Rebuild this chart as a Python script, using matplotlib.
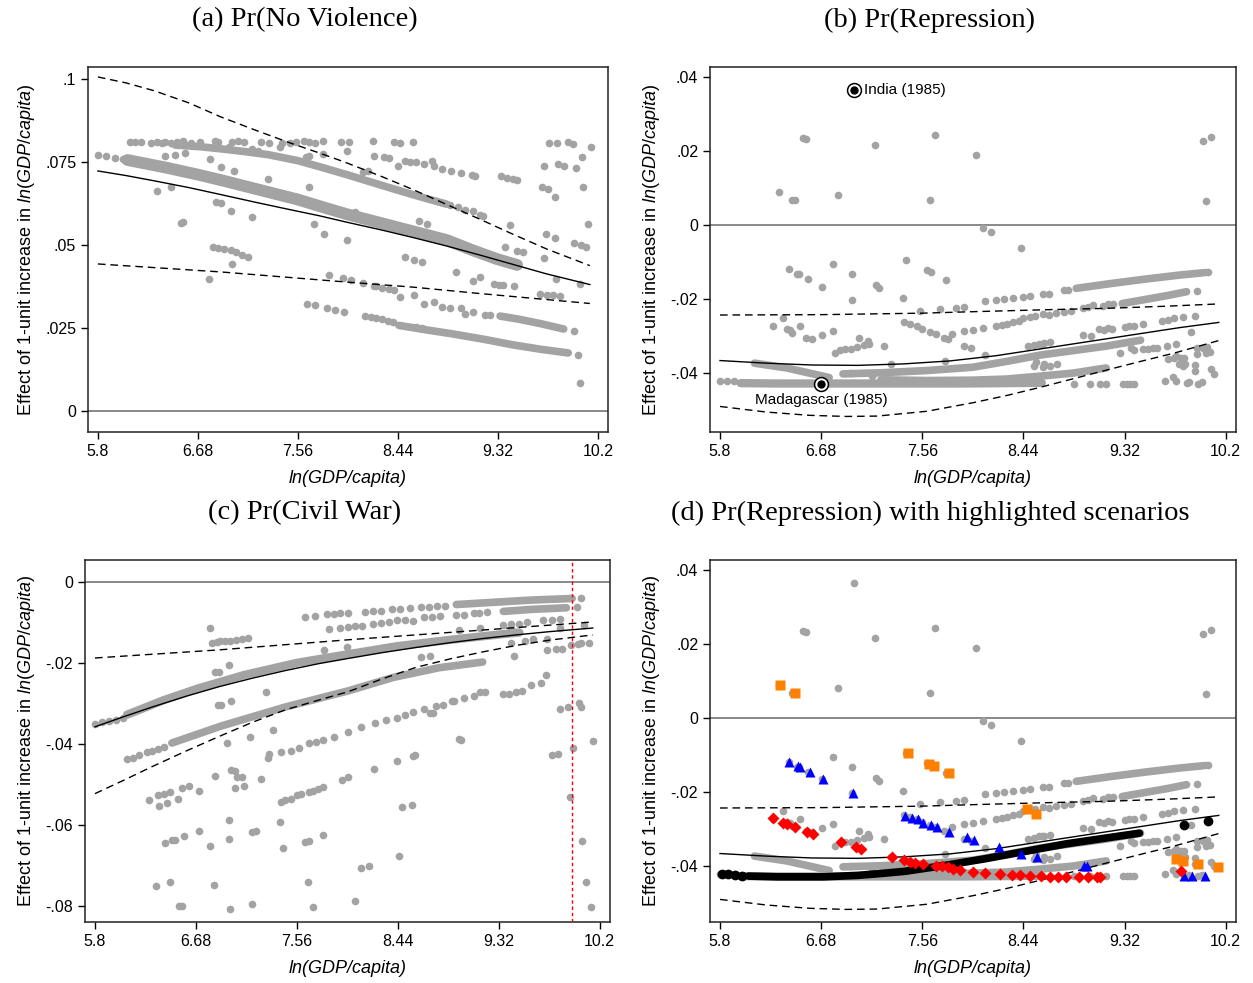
import numpy as np
import matplotlib
matplotlib.use("Agg")
import matplotlib.pyplot as plt

plt.rcParams['font.family'] = ['Liberation Sans', 'DejaVu Sans']
plt.rcParams['mathtext.fontset'] = 'custom'
plt.rcParams['mathtext.rm'] = 'Liberation Sans'
plt.rcParams['mathtext.it'] = 'Liberation Sans:italic'

GREY = '#a3a3a3'

# x axis ticks shared by every panel
xticks = [5.8, 6.68, 7.56, 8.44, 9.32, 10.2]
xticklabels = ['5.8', '6.68', '7.56', '8.44', '9.32', '10.2']

# ---------------- (a) Pr(No Violence) ----------------
a_fit_x = [5.8, 6.05, 6.30, 6.6, 6.88, 7.17, 7.47, 7.75, 8.0, 8.3, 8.58, 8.87, 9.16, 9.45, 9.75, 10.13]
a_fit_y = [0.0723, 0.0709, 0.0693, 0.0673, 0.0652, 0.0630, 0.0608, 0.0588, 0.0568, 0.0545, 0.0522, 0.0497, 0.0470, 0.0442, 0.0413, 0.0381]
a_hi_x = [5.8, 6.05, 6.30, 6.6, 6.88, 7.17, 7.47, 7.75, 7.97, 8.3, 8.58, 8.87, 9.16, 9.45, 9.75, 10.13]
a_hi_y = [0.1006, 0.0988, 0.0964, 0.0928, 0.0886, 0.0848, 0.0810, 0.0777, 0.0750, 0.0706, 0.0666, 0.0622, 0.0578, 0.0533, 0.0488, 0.0438]
a_lo_x = [5.8, 6.88, 7.97, 8.58, 9.16, 10.13]
a_lo_y = [0.0443, 0.0419, 0.0389, 0.0373, 0.0354, 0.0324]

# dense runs of dots
a_bands = [
    ([6.48, 6.7, 6.9, 7.1, 7.3, 7.56, 7.8, 8.0, 8.2, 8.43, 8.65, 8.87],
     [0.0801, 0.0796, 0.0789, 0.0781, 0.0772, 0.0754, 0.0731, 0.0711, 0.0690, 0.0666, 0.0644, 0.0623], 5.5),
    ([6.06, 6.4, 6.68, 6.9, 7.2, 7.56, 7.8, 8.0, 8.44, 8.87, 9.1, 9.31, 9.49],
     [0.0756, 0.0733, 0.0712, 0.0694, 0.0668, 0.0637, 0.0612, 0.0592, 0.0553, 0.0515, 0.0484, 0.0458, 0.0440], 8.5),
    ([8.45, 8.7, 8.93, 9.2, 9.46, 9.7, 9.94],
     [0.0258, 0.0244, 0.0232, 0.0216, 0.0199, 0.0186, 0.0175], 5.5),
    ([9.34, 9.5, 9.7, 9.9],
     [0.0286, 0.0277, 0.0263, 0.0247], 5.5),
]

a_dots_x = [5.80, 5.87, 5.95, 6.02,
            6.08, 6.13, 6.18, 6.27, 6.32, 6.36, 6.39, 6.44, 6.50, 6.55, 6.62, 6.70, 6.83, 6.86,
            6.98, 7.03, 7.09, 7.24, 7.31, 7.42, 7.49, 7.54, 7.61, 7.66, 7.71, 7.78, 7.94, 8.01,
            8.22, 8.41, 8.46, 8.57,
            6.39, 6.48, 6.57, 6.95, 7.16, 7.21, 7.40, 7.63, 7.66, 7.78, 7.99, 8.23, 8.32, 8.36,
            8.44, 8.50, 8.55, 8.60, 8.67, 8.74, 8.76, 8.83, 8.91, 9.00, 9.09, 9.12, 9.35, 9.40,
            9.45, 9.49, 8.90, 8.97, 9.03, 9.10, 9.16, 9.19,
            9.77, 9.84, 9.94, 9.98, 10.14, 9.73, 9.85, 9.90, 10.01, 10.06, 10.07, 9.71, 9.76,
            9.82, 10.11, 9.99, 10.05, 10.10, 9.74, 9.82, 9.73, 9.83, 10.04, 9.43, 9.38, 9.49,
            9.54, 8.63, 8.70, 8.50, 8.58, 8.65, 8.95, 9.10, 9.16,
            6.32, 6.44, 6.53, 6.55, 6.78, 6.84, 6.88, 6.97, 7.00, 6.88, 7.16, 7.30, 7.66, 7.70,
            7.79, 7.99, 8.06, 8.13, 8.18, 6.79,
            6.81, 6.86, 6.91, 6.97, 7.02, 7.07, 7.12, 6.98,
            7.64, 7.71, 7.82, 7.89, 7.97, 8.15, 8.20, 8.25, 8.30, 8.35, 8.40, 8.60, 8.65,
            10.03, 10.04,
            7.83, 7.96, 8.03, 8.13, 8.25, 8.36, 8.46, 8.58, 8.67, 8.76, 8.83, 8.90, 9.00, 9.03,
            9.10, 9.21, 9.25, 8.23, 8.30, 8.41, 9.29, 9.33, 9.37, 9.46, 9.69, 9.75, 9.81, 9.87,
            9.99]
a_dots_y = [0.0771, 0.0768, 0.0763, 0.0760,
            0.0810, 0.0810, 0.0810, 0.0808, 0.0810, 0.0806, 0.0810, 0.0808, 0.0810, 0.0812, 0.0808, 0.0810, 0.0812, 0.0810,
            0.0810, 0.0812, 0.0810, 0.0810, 0.0806, 0.0806, 0.0808, 0.0810, 0.0812, 0.0810, 0.0806, 0.0812, 0.0810, 0.0810,
            0.0812, 0.0810, 0.0808, 0.0810,
            0.0769, 0.0772, 0.0776, 0.0794, 0.0789, 0.0784, 0.0794, 0.0766, 0.0769, 0.0774, 0.0784, 0.0769, 0.0764, 0.0762,
            0.0739, 0.0754, 0.0749, 0.0749, 0.0744, 0.0754, 0.0739, 0.0729, 0.0724, 0.0716, 0.0712, 0.0708, 0.0707, 0.0702,
            0.0699, 0.0696, 0.0619, 0.0614, 0.0606, 0.0601, 0.0591, 0.0586,
            0.0806, 0.0806, 0.0810, 0.0804, 0.0794, 0.0739, 0.0744, 0.0739, 0.0732, 0.0766, 0.0676, 0.0676, 0.0668,
            0.0644, 0.0564, 0.0506, 0.0499, 0.0494, 0.0532, 0.0522, 0.0461, 0.0398, 0.0383, 0.0561, 0.0494, 0.0483,
            0.0478, 0.0572, 0.0564, 0.0463, 0.0455, 0.0448, 0.0418, 0.0393, 0.0403,
            0.0662, 0.0674, 0.0566, 0.0568, 0.0397, 0.0629, 0.0626, 0.0602, 0.0724, 0.0734, 0.0584, 0.0699, 0.0674, 0.0564,
            0.0534, 0.0514, 0.0599, 0.0719, 0.0724, 0.0759,
            0.0495, 0.0492, 0.0488, 0.0484, 0.0478, 0.0470, 0.0463, 0.0443,
            0.0323, 0.0318, 0.0310, 0.0303, 0.0298, 0.0286, 0.0283, 0.0279, 0.0276, 0.0272, 0.0268, 0.0252, 0.0249,
            0.0168, 0.0084,
            0.0411, 0.0400, 0.0395, 0.0386, 0.0378, 0.0368, 0.0343, 0.0348, 0.0323, 0.0328, 0.0313, 0.0310, 0.0310, 0.0293,
            0.0298, 0.0288, 0.0290, 0.0376, 0.0372, 0.0364, 0.0383, 0.0381, 0.0379, 0.0376, 0.0354, 0.0351, 0.0348, 0.0346,
            0.0240]

# ---------------- (b) Pr(Repression) ----------------
b_fit_x = [5.8, 6.2, 6.6, 7.0, 7.4, 7.8, 8.2, 8.6, 9.0, 9.4, 9.8, 10.14]
b_fit_y = [-0.0366, -0.0373, -0.0378, -0.0379, -0.0375, -0.0367, -0.0353, -0.0334, -0.0315, -0.0296, -0.0277, -0.0263]
b_hi_x = [5.8, 6.68, 7.56, 8.0, 8.6, 9.16, 9.7, 10.14]
b_hi_y = [-0.0243, -0.0242, -0.0238, -0.0234, -0.0229, -0.0225, -0.0219, -0.0213]
b_lo_x = [5.8, 6.2, 6.58, 6.9, 7.17, 7.6, 8.0, 8.3, 8.59, 8.9, 9.16, 9.45, 9.75, 10.14]
b_lo_y = [-0.0490, -0.0505, -0.0514, -0.0517, -0.0516, -0.0503, -0.0480, -0.0460, -0.0438, -0.0413, -0.0392, -0.0369, -0.0346, -0.0312]

b_bands = [
    ([5.98, 6.3, 6.7, 7.1, 7.5, 7.9, 8.3, 8.6],
     [-0.0427, -0.0428, -0.0428, -0.0428, -0.0428, -0.0428, -0.0427, -0.0426], 6),
    ([6.1, 6.38, 6.58, 6.75],
     [-0.0373, -0.0386, -0.0400, -0.0412], 5.5),
    ([6.87, 7.2, 7.6, 8.0, 8.3, 8.59, 8.9, 9.16, 9.46],
     [-0.0402, -0.0399, -0.0393, -0.0384, -0.0368, -0.0351, -0.0338, -0.0327, -0.0311], 5.5),
    ([7.2, 7.6, 8.0, 8.29, 8.59, 8.87, 9.16],
     [-0.0418, -0.0420, -0.0419, -0.0416, -0.0408, -0.0400, -0.0386], 5.5),
    ([8.9, 9.2, 9.5, 9.8, 10.0],
     [-0.0171, -0.0158, -0.0146, -0.0135, -0.0129], 5.5),
    ([9.3, 9.5, 9.7, 9.86],
     [-0.0212, -0.0201, -0.0190, -0.0180], 5.5),
]

b_dots_x = [6.97, 6.52, 6.55, 7.15, 7.67, 8.03, 10.00, 10.07, 10.03, 6.31, 6.43, 6.45, 6.83, 7.63,
            8.09, 8.16, 8.42,
            6.40, 6.47, 6.49, 6.57, 6.69, 6.78, 6.95, 6.95, 7.16, 7.18, 7.39, 7.42, 7.60, 7.64, 7.77,
            6.26, 6.35, 6.38, 6.41, 6.43, 6.50, 6.55, 6.60, 6.69, 6.78, 7.01, 7.09,
            6.80, 6.84, 6.89, 6.94, 6.99, 7.05, 7.10, 7.23, 6.94, 7.12, 7.29,
            7.40, 7.45, 7.51, 7.56, 7.63, 7.68, 7.75, 7.78, 7.82, 7.92, 7.98, 7.76, 8.11,
            8.48, 8.58, 8.62, 8.53, 8.61, 8.67, 9.03, 9.18, 9.21, 9.28, 9.38, 9.48, 9.57, 9.69,
            9.70, 9.77, 9.81, 9.90, 9.83, 9.93, 9.95, 10.03, 10.06, 9.77, 9.86, 9.96, 10.10, 9.67,
            9.31, 9.34, 9.37, 9.40, 9.16, 9.11, 9.02, 8.88,
            5.80, 5.86, 5.92,
            7.54, 7.71, 7.85, 7.92, 8.11, 8.20, 8.27, 8.35, 8.44, 8.50, 8.61, 8.66, 8.79, 8.83,
            10.02, 10.05,
            8.79, 8.85, 8.96, 9.00, 9.05, 9.13, 9.18, 9.22, 9.95,
            7.92, 8.00, 8.09, 8.20, 8.25, 8.30, 8.35, 8.40, 8.44, 8.50, 8.54, 8.61, 8.66, 8.72,
            9.32, 9.36, 9.40, 9.48, 9.65, 9.70, 9.75, 9.83, 9.93,
            8.96, 9.10, 9.14, 8.53, 8.60, 8.67, 8.55, 8.62, 8.73, 9.40, 9.52, 9.60, 9.77,
            9.75, 9.84, 9.79, 9.85, 9.95, 10.00, 10.04, 9.93, 10.07, 9.74, 9.88, 9.99]
b_dots_y = [0.0366, 0.0235, 0.0233, 0.0215, 0.0242, 0.0190, 0.0228, 0.0237, 0.0064, 0.0088, 0.0069, 0.0068, 0.0082, 0.0068,
            -0.0008, -0.0020, -0.0062,
            -0.0119, -0.0131, -0.0133, -0.0146, -0.0166, -0.0106, -0.0131, -0.0203, -0.0162, -0.0169, -0.0198, -0.0095, -0.0122, -0.0128, -0.0149,
            -0.0272, -0.0250, -0.0281, -0.0284, -0.0291, -0.0272, -0.0304, -0.0308, -0.0296, -0.0286, -0.0304, -0.0313,
            -0.0345, -0.0338, -0.0336, -0.0334, -0.0330, -0.0325, -0.0322, -0.0326, -0.0399, -0.0408, -0.0376,
            -0.0263, -0.0268, -0.0272, -0.0282, -0.0290, -0.0294, -0.0304, -0.0308, -0.0295, -0.0326, -0.0331, -0.0367, -0.0351,
            -0.0326, -0.0320, -0.0318, -0.0380, -0.0383, -0.0380, -0.0300, -0.0277, -0.0282, -0.0345, -0.0331, -0.0335, -0.0331, -0.0326,
            -0.0363, -0.0354, -0.0358, -0.0290, -0.0380, -0.0394, -0.0349, -0.0345, -0.0344, -0.0421, -0.0426, -0.0428, -0.0401, -0.0421,
            -0.0428, -0.0428, -0.0428, -0.0428, -0.0428, -0.0428, -0.0428, -0.0428,
            -0.0420, -0.0421, -0.0422,
            -0.0232, -0.0227, -0.0223, -0.0222, -0.0205, -0.0203, -0.0200, -0.0197, -0.0194, -0.0192, -0.0187, -0.0185, -0.0176, -0.0175,
            -0.0127, -0.0127,
            -0.0236, -0.0233, -0.0223, -0.0222, -0.0217, -0.0218, -0.0213, -0.0214, -0.0178,
            -0.0286, -0.0283, -0.0279, -0.0272, -0.0270, -0.0266, -0.0262, -0.0258, -0.0250, -0.0247, -0.0245, -0.0241, -0.0243, -0.0238,
            -0.0275, -0.0274, -0.0272, -0.0268, -0.0259, -0.0256, -0.0252, -0.0248, -0.0245,
            -0.0297, -0.0280, -0.0284, -0.0324, -0.0320, -0.0316, -0.0370, -0.0375, -0.0374, -0.0338, -0.0334, -0.0332, -0.0321,
            -0.0360, -0.0358, -0.0374, -0.0376, -0.0333, -0.0331, -0.0330, -0.0378, -0.0388, -0.0410, -0.0424, -0.0424]

# highlighted cases in (b)
india = (6.97, 0.0366)
madagascar = (6.68, -0.0428)

# ---------------- (c) Pr(Civil War) ----------------
c_fit_x = [5.8, 6.05, 6.30, 6.6, 6.88, 7.17, 7.46, 7.75, 8.01, 8.3, 8.60, 8.9, 9.18, 9.47, 9.76, 10.14]
c_fit_y = [-0.0358, -0.0333, -0.0309, -0.0282, -0.0259, -0.0238, -0.0219, -0.0202, -0.0189, -0.0175, -0.0162, -0.0150, -0.0140, -0.0131, -0.0123, -0.0114]
c_hi_x = [5.8, 6.88, 8.01, 9.18, 10.14]
c_hi_y = [-0.0188, -0.0168, -0.0143, -0.0119, -0.0099]
c_lo_x = [5.8, 6.05, 6.30, 6.6, 6.88, 7.17, 7.46, 7.75, 8.01, 8.3, 8.60, 8.9, 9.18, 9.47, 9.76, 10.14]
c_lo_y = [-0.0523, -0.0490, -0.0456, -0.0417, -0.0382, -0.0347, -0.0316, -0.0292, -0.0271, -0.0240, -0.0211, -0.0190, -0.0173, -0.0157, -0.0144, -0.0131]
c_vline = 9.96

c_bands = [
    ([6.08, 6.4, 6.70, 7.1, 7.56, 8.0, 8.43, 8.9, 9.29, 9.50],
     [-0.0328, -0.0292, -0.0263, -0.0230, -0.0200, -0.0179, -0.0159, -0.0143, -0.0131, -0.0125], 6),
    ([6.47, 6.9, 7.46, 8.01, 8.4, 8.8, 9.18],
     [-0.0398, -0.0356, -0.0309, -0.0269, -0.0236, -0.0212, -0.0198], 5.5),
    ([8.95, 9.3, 9.6, 9.96],
     [-0.0056, -0.0050, -0.0045, -0.0041], 5.5),
    ([9.36, 9.6, 9.91],
     [-0.0073, -0.0068, -0.0064], 5.5),
]

c_dots_x = [5.80, 5.86, 5.92, 5.98, 6.04,
            6.08, 6.13, 6.18, 6.25, 6.30, 6.35, 6.40,
            7.63, 7.72, 7.82, 7.88, 7.94, 8.01, 8.15, 8.22, 8.29, 8.39, 8.46, 8.55, 8.64, 8.71, 8.78, 8.85,
            10.04,
            7.84, 7.94, 8.01, 8.07, 8.13, 8.22, 8.29, 8.36, 8.43, 8.50, 8.57, 8.67, 8.74, 8.81, 8.95, 9.02,
            9.10, 9.15, 9.22, 10.00,
            9.36, 9.43, 9.50, 9.57, 9.71, 9.78, 9.85,
            6.80, 6.82, 6.86, 6.89, 6.93, 6.98, 7.03, 7.08, 7.13, 6.85, 6.88, 6.97, 6.87, 6.90, 6.99,
            7.29, 7.35, 7.15, 6.95, 7.80, 8.00, 8.64, 8.72, 8.97, 9.16, 9.43, 9.45, 9.43, 9.55, 9.62,
            9.74, 9.85, 9.74, 9.82, 9.87, 9.95, 10.01, 10.04, 10.11, 10.06,
            7.32, 7.42, 7.51, 7.58, 7.67, 7.73, 7.79, 7.88, 8.01, 8.12, 8.24, 8.34, 8.43, 8.50, 8.57,
            8.67, 8.77, 8.83, 8.93, 9.02, 9.10, 9.36, 9.41, 9.47, 9.52, 8.72, 8.75, 9.60, 9.69, 9.73,
            6.27, 6.35, 6.40, 6.45, 6.36, 6.43, 6.52, 6.56, 6.62, 6.71, 6.85, 6.99, 7.02, 7.02, 7.04,
            7.08, 7.10, 7.25, 7.31, 6.41, 6.47, 6.50, 6.58, 6.71, 6.80, 6.97, 6.97, 7.17, 7.20, 7.41,
            7.44, 7.42, 7.46, 7.51, 7.56, 7.60, 7.67, 7.70, 7.74, 7.79, 7.63, 7.67, 7.79, 7.95, 8.01,
            8.23, 8.43, 8.57, 8.59, 8.48, 8.56, 8.45, 8.12, 8.19, 6.33, 6.45, 6.53, 6.56, 6.84, 6.98,
            7.17, 7.66, 7.70, 8.07, 9.78, 9.84, 9.94, 9.97, 10.02, 10.04, 9.92, 9.85, 10.05, 10.08,
            10.12, 10.14, 8.97, 8.99, 8.91, 9.16, 9.20]
c_dots_y = [-0.0350, -0.0347, -0.0344, -0.0340, -0.0336,
            -0.0437, -0.0434, -0.0428, -0.0420, -0.0417, -0.0413, -0.0407,
            -0.0086, -0.0084, -0.0080, -0.0079, -0.0078, -0.0078, -0.0074, -0.0073, -0.0071, -0.0067, -0.0066, -0.0065, -0.0062, -0.0061, -0.0060, -0.0059,
            -0.0041,
            -0.0117, -0.0113, -0.0111, -0.0110, -0.0108, -0.0103, -0.0101, -0.0099, -0.0095, -0.0094, -0.0096, -0.0088, -0.0088, -0.0085, -0.0083, -0.0081,
            -0.0077, -0.0078, -0.0075, -0.0062,
            -0.0107, -0.0105, -0.0103, -0.0100, -0.0095, -0.0094, -0.0092,
            -0.0113, -0.0150, -0.0149, -0.0147, -0.0146, -0.0145, -0.0143, -0.0142, -0.0138, -0.0222, -0.0222, -0.0206, -0.0305, -0.0304, -0.0295,
            -0.0272, -0.0365, -0.0383, -0.0399, -0.0169, -0.0160, -0.0185, -0.0184, -0.0119, -0.0113, -0.0113, -0.0184, -0.0152, -0.0146, -0.0142,
            -0.0140, -0.0115, -0.0169, -0.0166, -0.0165, -0.0156, -0.0154, -0.0152, -0.0152, -0.0107,
            -0.0425, -0.0421, -0.0417, -0.0410, -0.0399, -0.0395, -0.0391, -0.0383, -0.0370, -0.0359, -0.0349, -0.0342, -0.0337, -0.0328, -0.0321,
            -0.0313, -0.0307, -0.0303, -0.0295, -0.0288, -0.0281, -0.0278, -0.0276, -0.0272, -0.0270, -0.0325, -0.0323, -0.0255, -0.0249, -0.0230,
            -0.0539, -0.0527, -0.0525, -0.0518, -0.0554, -0.0546, -0.0537, -0.0510, -0.0504, -0.0516, -0.0480, -0.0465, -0.0466, -0.0510, -0.0483,
            -0.0482, -0.0504, -0.0488, -0.0434, -0.0644, -0.0638, -0.0637, -0.0627, -0.0615, -0.0653, -0.0636, -0.0588, -0.0617, -0.0615, -0.0593,
            -0.0658, -0.0543, -0.0538, -0.0536, -0.0527, -0.0525, -0.0519, -0.0516, -0.0512, -0.0506, -0.0642, -0.0640, -0.0625, -0.0490, -0.0483,
            -0.0462, -0.0442, -0.0429, -0.0428, -0.0557, -0.0550, -0.0677, -0.0706, -0.0702, -0.0751, -0.0742, -0.0800, -0.0800, -0.0749, -0.0809,
            -0.0796, -0.0742, -0.0802, -0.0788, -0.0428, -0.0424, -0.0531, -0.0410, -0.0300, -0.0309, -0.0309, -0.0315, -0.0640, -0.0741,
            -0.0802, -0.0393, -0.0389, -0.0390, -0.0295, -0.0272, -0.0272]

# ---------------- (d) scenarios on top of the (b) data ----------------
d_black_x = [6.05, 6.3, 6.7, 7.0, 7.2, 7.41, 7.76, 8.11, 8.46, 8.81, 9.16, 9.45]
d_black_y = [-0.0427, -0.0429, -0.0429, -0.0425, -0.0420, -0.0414, -0.0398, -0.0380, -0.0360, -0.0340, -0.0324, -0.0311]
d_black_dots_x = [5.82, 5.87, 5.93, 5.99, 9.84, 10.05]
d_black_dots_y = [-0.0420, -0.0422, -0.0424, -0.0426, -0.0289, -0.0277]

d_orange_x = [6.32, 6.45, 7.44, 7.62, 7.66, 7.79, 8.47, 8.55, 9.77, 9.83, 9.96, 10.13]
d_orange_y = [0.0090, 0.0069, -0.0095, -0.0123, -0.0130, -0.0149, -0.0247, -0.0258, -0.0380, -0.0385, -0.0393, -0.0402]

d_blue_x = [6.40, 6.48, 6.50, 6.58, 6.70, 6.96, 7.41, 7.47, 7.52, 7.57, 7.64, 7.69, 7.79, 7.95, 8.01,
            8.23, 8.42, 8.56, 8.97, 8.99, 9.84, 9.91, 10.02]
d_blue_y = [-0.0118, -0.0130, -0.0133, -0.0145, -0.0165, -0.0203, -0.0265, -0.0270, -0.0274, -0.0283, -0.0289, -0.0295, -0.0307, -0.0322, -0.0330,
            -0.0349, -0.0367, -0.0376, -0.0400, -0.0400, -0.0428, -0.0428, -0.0428]

d_red_x = [6.26, 6.35, 6.38, 6.45, 6.56, 6.61, 6.85, 6.98, 7.03, 7.30, 7.40, 7.45, 7.50, 7.57, 7.68,
           7.73, 7.78, 7.83, 7.89, 8.00, 8.11, 8.24, 8.34, 8.41, 8.50, 8.59, 8.67, 8.74, 8.81, 8.92,
           9.00, 9.08, 9.11, 9.81]
d_red_y = [-0.0271, -0.0283, -0.0287, -0.0294, -0.0307, -0.0313, -0.0335, -0.0348, -0.0353, -0.0376, -0.0384, -0.0389, -0.0392, -0.0394, -0.0399,
           -0.0401, -0.0403, -0.0407, -0.0410, -0.0416, -0.0419, -0.0421, -0.0425, -0.0425, -0.0428, -0.0428, -0.0430, -0.0430, -0.0430, -0.0430,
           -0.0430, -0.0430, -0.0430, -0.0414]


def draw_grey(ax, bands, dx, dy):
    # runs of overlapping dots are drawn as a thick round-capped line
    for bx, by, w in bands:
        ax.plot(bx, by, '-', color=GREY, lw=w, solid_capstyle='round', zorder=2)
    ax.plot(dx, dy, 'o', color=GREY, ms=5.5, mec='none', zorder=2)


def draw_fit(ax, fx, fy, hx, hy, lx, ly):
    ax.plot(fx, fy, '-', color='black', lw=1.0, zorder=4)
    ax.plot(hx, hy, '--', color='black', lw=1.0, dashes=(5.5, 3.5), zorder=4)
    ax.plot(lx, ly, '--', color='black', lw=1.0, dashes=(5.5, 3.5), zorder=4)


def style(ax, ylim, yticks, ylabels):
    ax.axhline(0, color='#6a6a6a', lw=1.1, zorder=1)
    ax.set_xlim(5.713, 10.29)
    ax.set_ylim(*ylim)
    ax.set_xticks(xticks)
    ax.set_xticklabels(xticklabels)
    ax.set_yticks(yticks)
    ax.set_yticklabels(ylabels)
    ax.tick_params(labelsize=11.5, length=5, width=1, direction='out', colors='black')
    for s in ax.spines.values():
        s.set_linewidth(1.1)
        s.set_color('#222222')
    ax.set_xlabel('ln(GDP/capita)', fontsize=13, style='italic', labelpad=8)
    ax.set_ylabel(r'Effect of 1-unit increase in $\mathit{ln(GDP/capita)}$', fontsize=13, labelpad=6)


fig = plt.figure(figsize=(12.53, 9.83), dpi=100)
W, H = 1253.0, 983.0
axa = fig.add_axes([88 / W, 1 - 432 / H, 520 / W, 365 / H])
axb = fig.add_axes([710 / W, 1 - 432 / H, 526 / W, 365 / H])
axc = fig.add_axes([85 / W, 1 - 922 / H, 525 / W, 362 / H])
axd = fig.add_axes([710 / W, 1 - 922 / H, 526 / W, 362 / H])

# (a)
draw_grey(axa, a_bands, a_dots_x, a_dots_y)
draw_fit(axa, a_fit_x, a_fit_y, a_hi_x, a_hi_y, a_lo_x, a_lo_y)
style(axa, (-0.0063, 0.1036), [0, 0.025, 0.05, 0.075, 0.1], ['0', '.025', '.05', '.075', '.1'])

# (b)
draw_grey(axb, b_bands, b_dots_x, b_dots_y)
draw_fit(axb, b_fit_x, b_fit_y, b_hi_x, b_hi_y, b_lo_x, b_lo_y)
for px, py in [india, madagascar]:
    axb.plot(px, py, 'o', ms=10, mfc='white', mec='black', mew=1.1, zorder=5)
    axb.plot(px, py, 'o', ms=5, color='black', zorder=6)
axb.text(india[0] + 0.08, india[1], 'India (1985)', fontsize=11, va='center', ha='left')
axb.text(madagascar[0], madagascar[1] - 0.0045, 'Madagascar (1985)', fontsize=11, va='center', ha='center')
style(axb, (-0.0559, 0.0427), [-0.04, -0.02, 0, 0.02, 0.04], ['-.04', '-.02', '0', '.02', '.04'])

# (c)
draw_grey(axc, c_bands, c_dots_x, c_dots_y)
draw_fit(axc, c_fit_x, c_fit_y, c_hi_x, c_hi_y, c_lo_x, c_lo_y)
axc.axvline(c_vline, color='red', lw=1.0, ls=(0, (2.5, 2)), zorder=3)
style(axc, (-0.084, 0.0054), [-0.08, -0.06, -0.04, -0.02, 0], ['-.08', '-.06', '-.04', '-.02', '0'])

# (d)
draw_grey(axd, b_bands, b_dots_x, b_dots_y)
draw_fit(axd, b_fit_x, b_fit_y, b_hi_x, b_hi_y, b_lo_x, b_lo_y)
axd.plot(d_black_x, d_black_y, '-', color='black', lw=5.5, solid_capstyle='round', zorder=5)
axd.plot(d_black_dots_x, d_black_dots_y, 'o', color='black', ms=6, zorder=5)
axd.plot(d_orange_x, d_orange_y, 's', color='#ff8000', ms=6.5, mec='none', zorder=5)
axd.plot(d_blue_x, d_blue_y, '^', color='#0000ff', ms=7, mec='none', zorder=5)
axd.plot(d_red_x, d_red_y, 'D', color='#ff0000', ms=6.5, mec='none', zorder=5)
style(axd, (-0.0551, 0.0427), [-0.04, -0.02, 0, 0.02, 0.04], ['-.04', '-.02', '0', '.02', '.04'])

# panel titles, centred over each quarter of the page
tfont = dict(fontsize=20.5, family=['Liberation Serif', 'DejaVu Serif'], ha='center', va='center')
fig.text(305 / W, 1 - 20 / H, '(a) Pr(No Violence)', **tfont)
fig.text(930 / W, 1 - 20 / H, '(b) Pr(Repression)', **tfont)
fig.text(305 / W, 1 - 513 / H, '(c) Pr(Civil War)', **tfont)
fig.text(930 / W, 1 - 513 / H, '(d) Pr(Repression) with highlighted scenarios', **tfont)

fig.savefig('out.png', dpi=100)
